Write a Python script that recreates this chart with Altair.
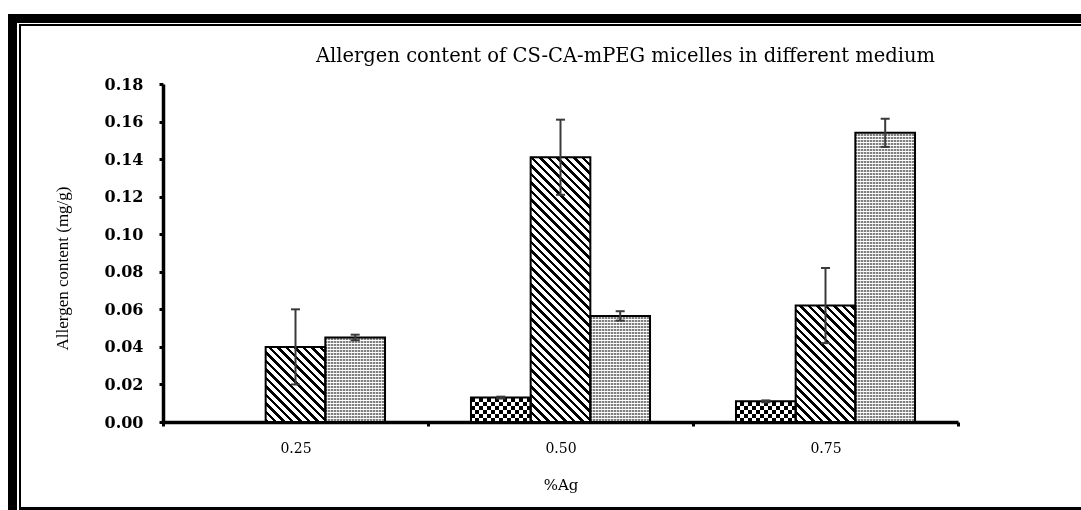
import math
import altair as alt

# Allergen content (mg/g) per %Ag level for the three release media
ag_levels = ["0.25", "0.50", "0.75"]
media = ["Medium 1", "Medium 2", "Medium 3"]
medium1 = [0.0, 0.013, 0.011]
medium1_err = [0.0, 0.0005, 0.0005]
medium2 = [0.040, 0.141, 0.062]
medium2_err = [0.020, 0.020, 0.020]
medium3 = [0.045, 0.0565, 0.154]
medium3_err = [0.0015, 0.0025, 0.0075]
y_ticks = [0.00, 0.02, 0.04, 0.06, 0.08, 0.10, 0.12, 0.14, 0.16, 0.18]

PLOT_W, PLOT_H = 795, 338
Y_MAX = 0.18
OFFSET_PAD = 0.72
BAR_W = PLOT_W / len(ag_levels) / (len(media) + 2 * OFFSET_PAD)
SERIF = "Liberation Serif"
WIDE_SERIF = "DejaVu Serif"


def stripe_stops(span, period, duty, on, off):
    """Hard-edged stops giving repeating stripes along a gradient of `span` px."""
    stops = []
    n = int(math.ceil(span / period))
    for k in range(n):
        a = min(1.0, k * period / span)
        b = min(1.0, (k + duty) * period / span)
        c = min(1.0, (k + 1) * period / span)
        stops += [
            {"offset": a, "color": on},
            {"offset": b, "color": on},
            {"offset": b, "color": off},
            {"offset": c, "color": off},
        ]
    return stops


def bar_height(v):
    return max(v / Y_MAX * PLOT_H, 1)


def columns(period, duty, on, off):
    return {"gradient": "linear", "x1": 0, "y1": 0, "x2": 1, "y2": 0,
            "stops": stripe_stops(BAR_W, period, duty, on, off)}


def rows_of(v, period, duty, on, off):
    # bottom-to-top gradient so the rows line up with the baseline
    return {"gradient": "linear", "x1": 0, "y1": 1, "x2": 1e-6, "y2": 0,
            "stops": stripe_stops(bar_height(v), period, duty, on, off)}


def diagonal_hatch(v):
    # "\" lines at 45 degrees: the gradient runs along x - y across the bar
    w, h = BAR_W, bar_height(v)
    s = (w + h) / (w * w + h * h)
    return {"gradient": "linear", "x1": 0, "y1": 1, "x2": s * w, "y2": 1 - s * h,
            "stops": stripe_stops(w + h, 8.5, 0.42, "#000000", "#ffffff")}


records = []
series = [(medium1, medium1_err), (medium2, medium2_err), (medium3, medium3_err)]
for i, ag in enumerate(ag_levels):
    for j, name in enumerate(media):
        vals, errs = series[j]
        v, e = vals[i], errs[i]
        if j == 0:
            # checkerboard: columns XOR rows
            fill = columns(8, 0.5, "#000000", "#ffffff")
            overlay, mode = rows_of(v, 8, 0.5, "#ffffff", "#000000"), "difference"
        elif j == 1:
            fill, overlay, mode = diagonal_hatch(v), None, None
        else:
            # fine dot grid: grey columns broken up by white rows
            fill = columns(3, 0.4, "#808080", "#d4d4d4")
            overlay, mode = rows_of(v, 3, 0.34, "#ffffff", "#000000"), "lighten"
        records.append({"ag": ag, "medium": name, "value": v, "err": e,
                        "lo": v - e, "hi": v + e, "fill": fill,
                        "overlay": overlay, "mode": mode})

data = alt.Data(values=records)

y_scale = alt.Scale(domain=[0, Y_MAX], nice=False)
y_axis = alt.Axis(
    title="Allergen content (mg/g)",
    values=y_ticks,
    format=".2f",
    grid=False,
    labelOverlap=False,
    labelFont=WIDE_SERIF,
    labelFontSize=16,
    labelFontWeight="bold",
    labelColor="#000000",
    labelPadding=16,
    tickSize=4,
    tickWidth=3,
    tickColor="#000000",
    domainColor="#000000",
    domainWidth=3.5,
    titleFont=SERIF,
    titleFontSize=17,
    titleFontWeight="normal",
    titleColor="#000000",
    titleAngle=270,
    titleBaseline="middle",
    titleX=-101,
    titleY=184,
)


def y_of(field):
    return alt.Y(f"{field}:Q", scale=y_scale, axis=y_axis,
                 title="Allergen content (mg/g)")


x_enc = alt.X(
    "ag:N",
    sort=ag_levels,
    scale=alt.Scale(domain=ag_levels, paddingInner=0, paddingOuter=0),
    axis=alt.Axis(
        title="%Ag",
        tickBand="extent",
        labelAngle=0,
        labelFont=WIDE_SERIF,
        labelFontSize=14,
        labelColor="#000000",
        labelPadding=15,
        tickSize=4,
        tickWidth=3,
        tickColor="#000000",
        domainColor="#000000",
        domainWidth=3.5,
        titleFont=WIDE_SERIF,
        titleFontSize=15,
        titleFontWeight="normal",
        titleColor="#000000",
        titlePadding=22,
    ),
)
xo_enc = alt.XOffset(
    "medium:N",
    sort=media,
    scale=alt.Scale(domain=media, paddingInner=0, paddingOuter=OFFSET_PAD),
)

bars = alt.Chart(data).transform_filter("datum.value > 0").mark_bar(
    strokeWidth=0
).encode(
    x=x_enc, xOffset=xo_enc, y=y_of("value"),
    fill=alt.Fill("fill:N", scale=None),
)


def overlay_layer(mode):
    return alt.Chart(data).transform_filter(
        f"datum.value > 0 && datum.mode == '{mode}'"
    ).mark_bar(strokeWidth=0, blend=mode).encode(
        x=x_enc, xOffset=xo_enc, y=y_of("value"),
        fill=alt.Fill("overlay:N", scale=None),
    )


outlines = alt.Chart(data).transform_filter("datum.value > 0").mark_bar(
    fill="transparent", stroke="#000000", strokeWidth=2
).encode(x=x_enc, xOffset=xo_enc, y=y_of("value"))

err_rules = alt.Chart(data).transform_filter("datum.err > 0").mark_rule(
    color="#3a3a3a", strokeWidth=2
).encode(x=x_enc, xOffset=xo_enc, y=y_of("lo"), y2="hi:Q")


def caps(field):
    return alt.Chart(data).transform_filter("datum.err > 0").mark_tick(
        orient="horizontal", size=9, thickness=2, color="#3a3a3a", opacity=1
    ).encode(x=x_enc, xOffset=xo_enc, y=y_of(field))


# Double-line frame around the figure (top and left), thin line at the bottom
one = alt.Data(values=[{"k": 0}])
frame_color = "#000000"
frame = [
    alt.Chart(one).mark_rule(color=frame_color, strokeWidth=9).encode(
        x=alt.value(-155), x2=alt.value(918), y=alt.value(-65.5)),
    alt.Chart(one).mark_rule(color=frame_color, strokeWidth=2).encode(
        x=alt.value(-144), x2=alt.value(918), y=alt.value(-59)),
    alt.Chart(one).mark_rule(color=frame_color, strokeWidth=9).encode(
        x=alt.value(-150.5), y=alt.value(-70), y2=alt.value(426)),
    alt.Chart(one).mark_rule(color=frame_color, strokeWidth=2).encode(
        x=alt.value(-143), y=alt.value(-60), y2=alt.value(426)),
    alt.Chart(one).mark_rule(color=frame_color, strokeWidth=3).encode(
        x=alt.value(-144), x2=alt.value(918), y=alt.value(424.5)),
]

chart = alt.layer(
    bars, overlay_layer("difference"), overlay_layer("lighten"), outlines,
    err_rules, caps("hi"), caps("lo"), *frame
).properties(
    width=PLOT_W,
    height=PLOT_H,
    autosize=alt.AutoSizeParams(type="none"),
    padding={"left": 163, "top": 84, "right": 123, "bottom": 88},
    background="#ffffff",
    title=alt.TitleParams(
        "Allergen content of CS-CA-mPEG micelles in different medium",
        font=WIDE_SERIF,
        fontSize=19.5,
        fontWeight="normal",
        color="#000000",
        anchor="middle",
        baseline="middle",
        dx=65,
        dy=76,
        offset=10,
    ),
).configure_view(stroke=None)

chart.save("out.html", embed_options={"renderer": "svg", "actions": False})
